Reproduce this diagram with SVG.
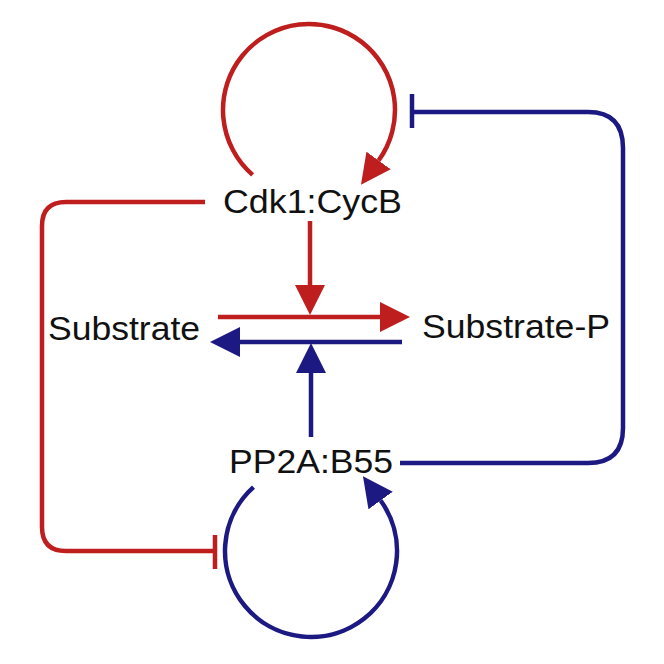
<svg xmlns="http://www.w3.org/2000/svg" width="664" height="664" viewBox="0 0 664 664">
  <style>
    .lbl { font-family: "Liberation Sans", Arial, sans-serif; font-size: 34px; fill: #111; }
    .r { stroke: #BE1E1E; stroke-width: 4.5; fill: none; }
    .b { stroke: #1C1A82; stroke-width: 4.5; fill: none; }
  </style>
  <defs>
    <marker id="ahR" markerUnits="userSpaceOnUse" markerWidth="30" markerHeight="30" viewBox="0 0 28 28" refX="0" refY="14" orient="auto">
      <path d="M0,0 L28,14 L0,28 Z" fill="#BE1E1E"/>
    </marker>
    <marker id="ahB" markerUnits="userSpaceOnUse" markerWidth="30" markerHeight="30" viewBox="0 0 28 28" refX="0" refY="14" orient="auto">
      <path d="M0,0 L28,14 L0,28 Z" fill="#1C1A82"/>
    </marker>
  </defs>
  <rect width="664" height="664" fill="#fff"/>
  <g id="connectors">
    <path class="r" d="M252.6,174.9 A86,86 0 1 1 378.6,160.5" marker-end="url(#ahR)"/>
    <path class="b" d="M253.5,487.1 A86,86 0 1 0 380.6,500.5" marker-end="url(#ahB)"/>
    <path class="r" d="M205,202 H66 Q42,202 42,226 V527 Q42,551 66,551 H215"/>
    <line class="r" x1="215" y1="535" x2="215" y2="569"/>
    <path class="b" d="M400,463 H588 Q623,463 623,428 V148 Q623,112 588,112 H412"/>
    <line class="b" x1="412" y1="94" x2="412" y2="128"/>
    <path class="r" d="M218,317 H380" marker-end="url(#ahR)"/>
    <path class="r" d="M310,221 V285" marker-end="url(#ahR)"/>
    <path class="b" d="M402,342 H240" marker-end="url(#ahB)"/>
    <path class="b" d="M311,437 V373" marker-end="url(#ahB)"/>
  </g>
  <g id="cdk1">
    <text class="lbl" x="223" y="213" textLength="179" lengthAdjust="spacingAndGlyphs">Cdk1:CycB</text>
  </g>
  <g id="substrate">
    <text class="lbl" x="48" y="340" textLength="152" lengthAdjust="spacingAndGlyphs">Substrate</text>
  </g>
  <g id="substrate-p">
    <text class="lbl" x="422" y="338" textLength="188" lengthAdjust="spacingAndGlyphs">Substrate-P</text>
  </g>
  <g id="pp2a">
    <text class="lbl" x="229" y="473" textLength="164" lengthAdjust="spacingAndGlyphs">PP2A:B55</text>
  </g>
</svg>
